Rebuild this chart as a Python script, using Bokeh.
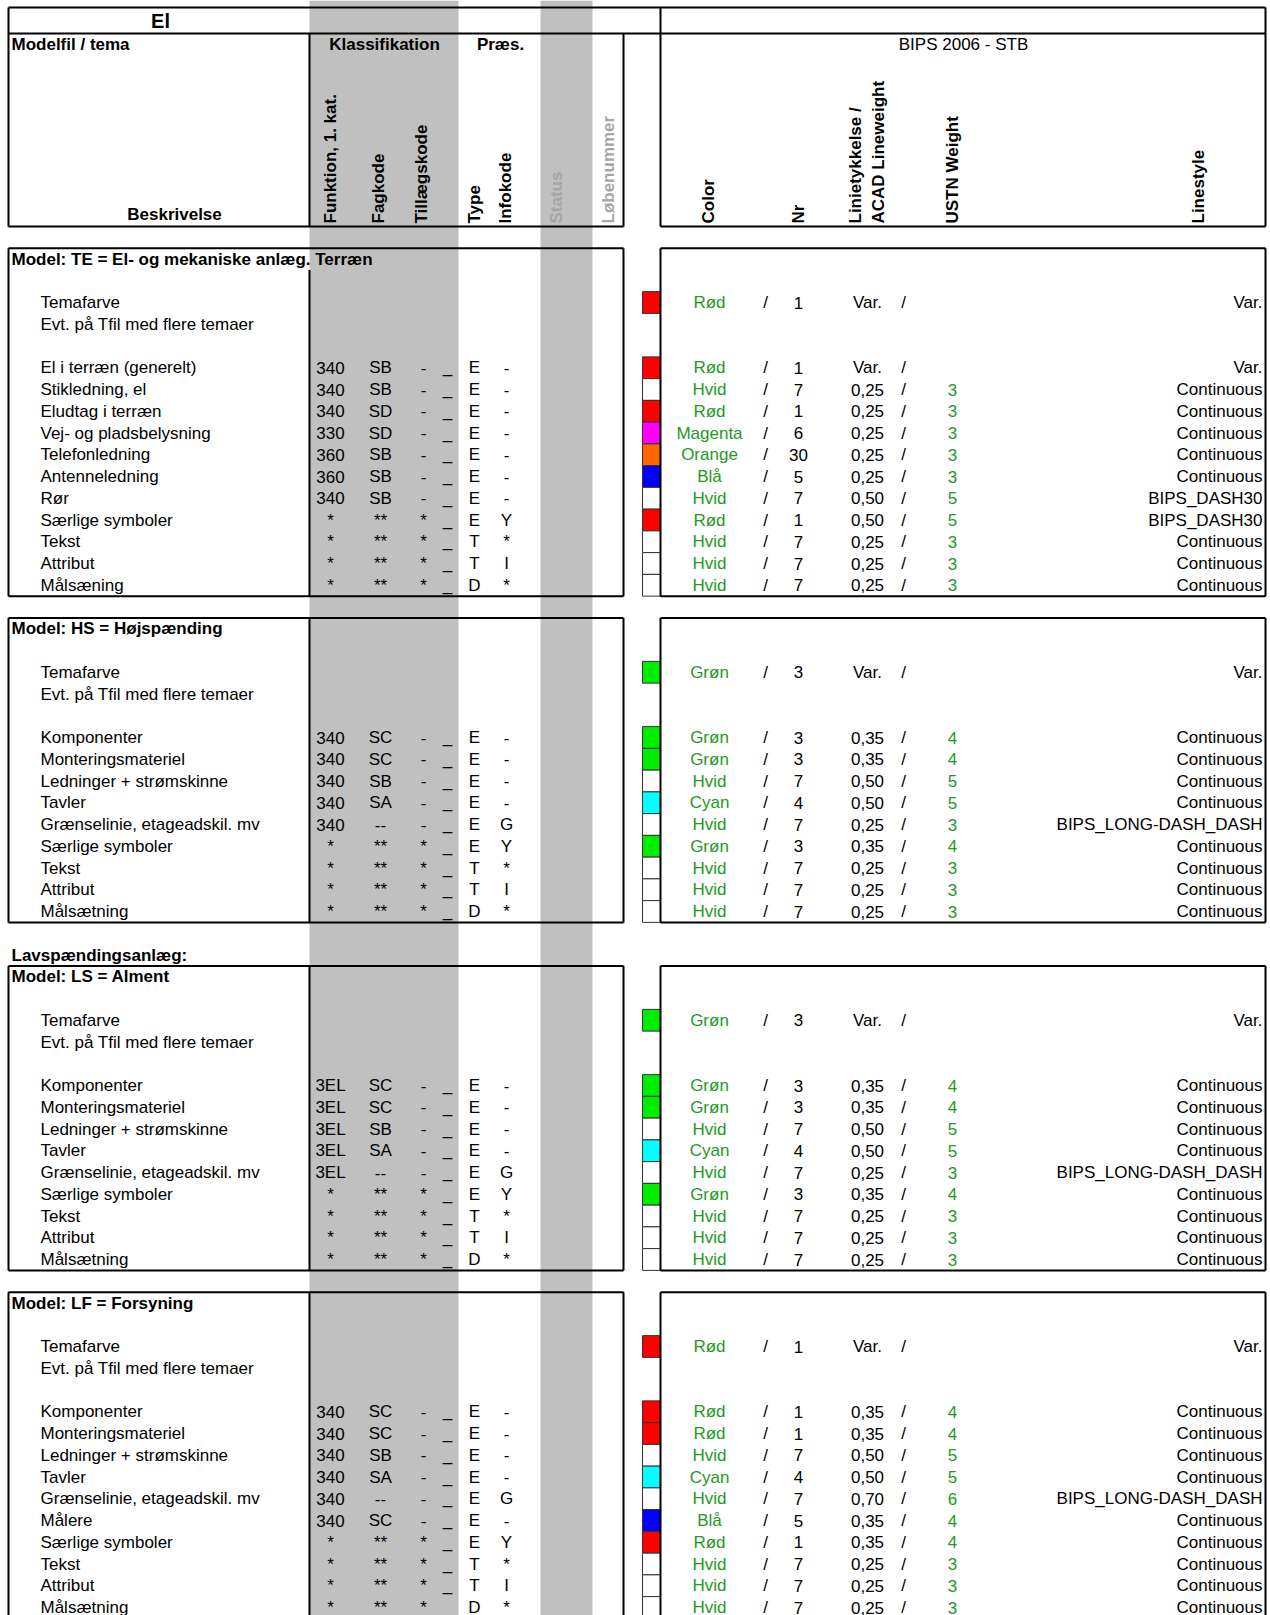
import numpy as np
from bokeh.plotting import figure
from bokeh.models import Range1d, ColumnDataSource
from bokeh.embed import file_html
from bokeh.resources import INLINE
from bokeh.core.properties import value

# ------------------------------------------------------------------ data
page_title = "El"
header_left = "Modelfil / tema"
header_klass = "Klassifikation"
header_praes = "Præs."
header_bips = "BIPS 2006 - STB"
header_beskr = "Beskrivelse"
rot_headers = ["Funktion, 1. kat.", "Fagkode", "Tillægskode", "Type", "Infokode",
               "Status", "Løbenummer", "Color", "Nr", "Linietykkelse /",
               "ACAD Lineweight", "USTN Weight", "Linestyle"]
rot_muted = [False, False, False, False, False, True, True, False, False, False,
             False, False, False]

theme_labels = ["Temafarve", "Evt. på Tfil med flere temaer"]
lavsp_label = "Lavspændingsanlæg:"

section_titles = ["Model: TE = El- og mekaniske anlæg. Terræn",
                  "Model: HS = Højspænding",
                  "Model: LS = Alment",
                  "Model: LF = Forsyning"]
section_theme_color = ["Rød", "Grøn", "Grøn", "Rød"]
section_theme_nr = ["1", "3", "3", "1"]

TE_desc = ["El i terræn (generelt)", "Stikledning, el", "Eludtag i terræn",
           "Vej- og pladsbelysning", "Telefonledning", "Antenneledning", "Rør",
           "Særlige symboler", "Tekst", "Attribut", "Målsæning"]
TE_funk = ["340", "340", "340", "330", "360", "360", "340", "*", "*", "*", "*"]
TE_fag = ["SB", "SB", "SD", "SD", "SB", "SB", "SB", "**", "**", "**", "**"]
TE_till = ["-", "-", "-", "-", "-", "-", "-", "*", "*", "*", "*"]
TE_type = ["E", "E", "E", "E", "E", "E", "E", "E", "T", "T", "D"]
TE_info = ["-", "-", "-", "-", "-", "-", "-", "Y", "*", "I", "*"]
TE_color = ["Rød", "Hvid", "Rød", "Magenta", "Orange", "Blå", "Hvid", "Rød",
            "Hvid", "Hvid", "Hvid"]
TE_nr = ["1", "7", "1", "6", "30", "5", "7", "1", "7", "7", "7"]
TE_lw = ["Var.", "0,25", "0,25", "0,25", "0,25", "0,25", "0,50", "0,50", "0,25",
         "0,25", "0,25"]
TE_ustn = ["", "3", "3", "3", "3", "3", "5", "5", "3", "3", "3"]
TE_style = ["Var.", "Continuous", "Continuous", "Continuous", "Continuous",
            "Continuous", "BIPS_DASH30", "BIPS_DASH30", "Continuous",
            "Continuous", "Continuous"]

HS_desc = ["Komponenter", "Monteringsmateriel", "Ledninger + strømskinne", "Tavler",
           "Grænselinie, etageadskil. mv", "Særlige symboler", "Tekst", "Attribut",
           "Målsætning"]
HS_funk = ["340", "340", "340", "340", "340", "*", "*", "*", "*"]
HS_fag = ["SC", "SC", "SB", "SA", "--", "**", "**", "**", "**"]
HS_till = ["-", "-", "-", "-", "-", "*", "*", "*", "*"]
HS_type = ["E", "E", "E", "E", "E", "E", "T", "T", "D"]
HS_info = ["-", "-", "-", "-", "G", "Y", "*", "I", "*"]
HS_color = ["Grøn", "Grøn", "Hvid", "Cyan", "Hvid", "Grøn", "Hvid", "Hvid", "Hvid"]
HS_nr = ["3", "3", "7", "4", "7", "3", "7", "7", "7"]
HS_lw = ["0,35", "0,35", "0,50", "0,50", "0,25", "0,35", "0,25", "0,25", "0,25"]
HS_ustn = ["4", "4", "5", "5", "3", "4", "3", "3", "3"]
HS_style = ["Continuous", "Continuous", "Continuous", "Continuous",
            "BIPS_LONG-DASH_DASH", "Continuous", "Continuous", "Continuous",
            "Continuous"]

LS_desc = ["Komponenter", "Monteringsmateriel", "Ledninger + strømskinne", "Tavler",
           "Grænselinie, etageadskil. mv", "Særlige symboler", "Tekst", "Attribut",
           "Målsætning"]
LS_funk = ["3EL", "3EL", "3EL", "3EL", "3EL", "*", "*", "*", "*"]
LS_fag = ["SC", "SC", "SB", "SA", "--", "**", "**", "**", "**"]
LS_till = ["-", "-", "-", "-", "-", "*", "*", "*", "*"]
LS_type = ["E", "E", "E", "E", "E", "E", "T", "T", "D"]
LS_info = ["-", "-", "-", "-", "G", "Y", "*", "I", "*"]
LS_color = ["Grøn", "Grøn", "Hvid", "Cyan", "Hvid", "Grøn", "Hvid", "Hvid", "Hvid"]
LS_nr = ["3", "3", "7", "4", "7", "3", "7", "7", "7"]
LS_lw = ["0,35", "0,35", "0,50", "0,50", "0,25", "0,35", "0,25", "0,25", "0,25"]
LS_ustn = ["4", "4", "5", "5", "3", "4", "3", "3", "3"]
LS_style = ["Continuous", "Continuous", "Continuous", "Continuous",
            "BIPS_LONG-DASH_DASH", "Continuous", "Continuous", "Continuous",
            "Continuous"]

LF_desc = ["Komponenter", "Monteringsmateriel", "Ledninger + strømskinne", "Tavler",
           "Grænselinie, etageadskil. mv", "Målere", "Særlige symboler", "Tekst",
           "Attribut", "Målsætning"]
LF_funk = ["340", "340", "340", "340", "340", "340", "*", "*", "*", "*"]
LF_fag = ["SC", "SC", "SB", "SA", "--", "SC", "**", "**", "**", "**"]
LF_till = ["-", "-", "-", "-", "-", "-", "*", "*", "*", "*"]
LF_type = ["E", "E", "E", "E", "E", "E", "E", "T", "T", "D"]
LF_info = ["-", "-", "-", "-", "G", "-", "Y", "*", "I", "*"]
LF_color = ["Rød", "Rød", "Hvid", "Cyan", "Hvid", "Blå", "Rød", "Hvid", "Hvid", "Hvid"]
LF_nr = ["1", "1", "7", "4", "7", "5", "1", "7", "7", "7"]
LF_lw = ["0,35", "0,35", "0,50", "0,50", "0,70", "0,35", "0,35", "0,25", "0,25", "0,25"]
LF_ustn = ["4", "4", "5", "5", "6", "4", "4", "3", "3", "3"]
LF_style = ["Continuous", "Continuous", "Continuous", "Continuous",
            "BIPS_LONG-DASH_DASH", "Continuous", "Continuous", "Continuous",
            "Continuous", "Continuous"]

# ------------------------------------------------------------------ styles / layout
SWATCH = {"Rød": "#ff0000", "Hvid": "#ffffff", "Magenta": "#ff00ff",
          "Orange": "#ff6600", "Blå": "#0000ff", "Grøn": "#00ee00",
          "Cyan": "#00ffff"}
GREEN = "#229a22"
GRAY_BAND = "#c0c0c0"
MUTED = "#a6a6a6"
FONT = value("Liberation Sans")
FS = "17px"

W, H = 1270, 1615
RIGHT = 1265
ROW0, ROW_H = 258.5, 21.75
section_start = [0, 17, 33, 48]
lavsp_row = 32

COL = dict(desc=40, head=11, funk=330, fag=380, till=423, us=447, typ=474, info=506,
           cname=709, sl1=765, nr=798, lw=867, sl2=903, ustn=952, style=1262)

sections = [
    (TE_desc, TE_funk, TE_fag, TE_till, TE_type, TE_info, TE_color, TE_nr, TE_lw, TE_ustn, TE_style),
    (HS_desc, HS_funk, HS_fag, HS_till, HS_type, HS_info, HS_color, HS_nr, HS_lw, HS_ustn, HS_style),
    (LS_desc, LS_funk, LS_fag, LS_till, LS_type, LS_info, LS_color, LS_nr, LS_lw, LS_ustn, LS_style),
    (LF_desc, LF_funk, LF_fag, LF_till, LF_type, LF_info, LF_color, LF_nr, LF_lw, LF_ustn, LF_style),
]


def ry(row):
    return ROW0 + row * ROW_H


p = figure(width=W, height=H, output_backend="svg", toolbar_location=None,
           x_range=Range1d(0, W), y_range=Range1d(H, 0),
           min_border=0, outline_line_color=None)
p.axis.visible = False
p.grid.visible = False
p.background_fill_color = "white"
p.border_fill_color = "white"

# gray bands
p.quad(left=[309, 540], right=[458, 592], top=[0, 0], bottom=[1700, 1700],
       fill_color=GRAY_BAND, line_color=None)

# text collectors
norm = dict(x=[], y=[], t=[], a=[])
green = dict(x=[], y=[], t=[], a=[])
bold = dict(x=[], y=[], t=[], a=[])
sw = dict(l=[], r=[], t=[], b=[], c=[])
seg = dict(x0=[], y0=[], x1=[], y1=[])


def add(d, x, y, t, a="center"):
    if t == "":
        return
    d["x"].append(x); d["y"].append(y); d["t"].append(t); d["a"].append(a)


def line(x0, y0, x1, y1):
    seg["x0"].append(x0); seg["y0"].append(y0); seg["x1"].append(x1); seg["y1"].append(y1)


def swatch(row, cname):
    sw["l"].append(642); sw["r"].append(660)
    sw["t"].append(ry(row) - ROW_H / 2); sw["b"].append(ry(row) + ROW_H / 2)
    sw["c"].append(SWATCH[cname])


# header frame
TOP, L1, HB = 7, 33, 226
LEFT = 8
line(LEFT, TOP, RIGHT, TOP)
line(LEFT, L1, RIGHT, L1)
line(LEFT, TOP, LEFT, HB)
line(660, TOP, 660, HB)
line(RIGHT, TOP, RIGHT, HB)
line(623, L1, 623, HB)
line(309, L1, 309, HB)
line(LEFT, HB, 623, HB)
line(660, HB, RIGHT, HB)

add(bold, 11, 44, header_left, "left")
add(bold, 384, 44, header_klass)
add(bold, 500, 44, header_praes)
add(norm, 963, 44, header_bips)
add(bold, 174, 214, header_beskr)
add(bold, 11, ry(lavsp_row), lavsp_label, "left")

for si, (desc, funk, fag, till, typ, info, cname, nr, lw, ustn, style) in enumerate(sections):
    s = section_start[si]
    last = s + 5 + len(desc) - 1
    top = ry(s) - ROW_H / 2
    bot = ry(last) + ROW_H / 2
    line(LEFT, top, 623, top); line(LEFT, bot, 623, bot)
    line(LEFT, top, LEFT, bot); line(623, top, 623, bot)
    inner_top = top + ROW_H if len(section_titles[si]) > 30 else top
    line(309, inner_top, 309, bot)
    line(660, top, RIGHT, top); line(660, bot, RIGHT, bot)
    line(660, top, 660, bot); line(RIGHT, top, RIGHT, bot)

    add(bold, COL["head"], ry(s), section_titles[si], "left")
    add(norm, COL["desc"], ry(s + 2), theme_labels[0], "left")
    add(norm, COL["desc"], ry(s + 3), theme_labels[1], "left")
    y = ry(s + 2)
    swatch(s + 2, section_theme_color[si])
    add(green, COL["cname"], y, section_theme_color[si])
    add(norm, COL["sl1"], y, "/")
    add(norm, COL["nr"], y, section_theme_nr[si])
    add(norm, COL["lw"], y, "Var.")
    add(norm, COL["sl2"], y, "/")
    add(norm, COL["style"], y, "Var.", "right")

    for i in range(len(desc)):
        r = s + 5 + i
        y = ry(r)
        add(norm, COL["desc"], y, desc[i], "left")
        add(norm, COL["funk"], y, funk[i])
        add(norm, COL["fag"], y, fag[i])
        add(norm, COL["till"], y, till[i])
        add(norm, COL["us"], y, "_")
        add(norm, COL["typ"], y, typ[i])
        add(norm, COL["info"], y, info[i])
        swatch(r, cname[i])
        add(green, COL["cname"], y, cname[i])
        add(norm, COL["sl1"], y, "/")
        add(norm, COL["nr"], y, nr[i])
        add(norm, COL["lw"], y, lw[i])
        add(norm, COL["sl2"], y, "/")
        add(green, COL["ustn"], y, ustn[i])
        add(norm, COL["style"], y, style[i], "right")

p.quad(left="l", right="r", top="t", bottom="b", fill_color="c", line_color="#333333",
       line_width=1, source=ColumnDataSource(sw))
p.segment(x0="x0", y0="y0", x1="x1", y1="y1", line_color="black", line_width=2,
          source=ColumnDataSource(seg))


def draw(d, color, style="normal", size=FS):
    p.text(x="x", y="y", text="t", text_align="a", text_baseline="middle",
           text_color=color, text_font=FONT, text_font_size=size,
           text_font_style=style, source=ColumnDataSource(d))


draw(norm, "black")
draw(green, GREEN)
draw(bold, "black", "bold")

# title
p.text(x=[160], y=[20], text=[page_title], text_align="center", text_baseline="middle",
       text_font=FONT, text_font_size="20px", text_font_style="bold", text_color="black")

# rotated headers
rot_x = [330, 378, 421, 474, 505, 556, 608, 708, 798, 855, 878, 952, 1198]
rot_c = [MUTED if m else "black" for m in rot_muted]
p.text(x=rot_x, y=[223] * len(rot_x), text=rot_headers, angle=np.pi / 2,
       text_align="left", text_baseline="middle", text_color=rot_c,
       text_font=FONT, text_font_size=FS, text_font_style="bold")

open("out.html", "w").write(file_html(p, INLINE))
